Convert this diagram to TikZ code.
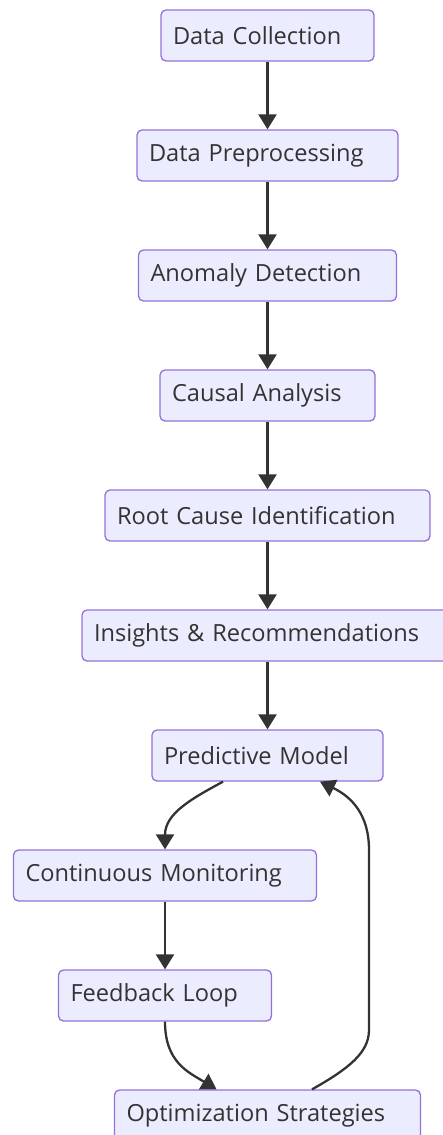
\documentclass[tikz,border=0pt]{standalone}
\usepackage{fontspec}
\setmainfont{Open Sans}
\usetikzlibrary{arrows.meta}
\definecolor{boxfill}{HTML}{ECECFF}
\definecolor{boxline}{HTML}{9370DB}
\definecolor{ink}{HTML}{333333}

\begin{document}
\begin{tikzpicture}[x=1pt, y=-1pt,
    box/.style={draw=boxline, fill=boxfill, line width=1.3pt, rounded corners=5pt,
        minimum height=51pt, inner xsep=12pt, inner ysep=0pt, align=left,
        text=ink, font=\fontsize{23.6}{28}\selectfont},
    flow/.style={draw=ink, line width=2.3pt, -{Triangle[width=18pt,length=15pt]}}]
\useasboundingbox (0,0) rectangle (442,1135);
    \node[box, text width=189pt] (dc) at (267.5,35.5) {Data Collection};
    \node[box, text width=237pt] (dp) at (267.5,155.5) {Data Preprocessing};
    \node[box, text width=234pt] (ad) at (267.5,275.5) {Anomaly Detection};
    \node[box, text width=191pt] (ca) at (267.5,395.5) {Causal Analysis};
    \node[box, text width=301pt] (rc) at (267.5,515.5) {Root Cause Identification};
    \node[box, text width=347pt] (ir) at (267.5,635.5) {Insights \& Recommendations};
    \node[box, text width=207pt] (pm) at (267.5,755.5) {Predictive Model};
    \node[box, text width=279pt] (cm) at (165,875.5) {Continuous Monitoring};
    \node[box, text width=189pt] (fl) at (165,995.5) {Feedback Loop};
    \node[box, text width=282pt] (os) at (267.5,1115.5) {Optimization Strategies};
    \draw[flow] (dc) -- (dp);
    \draw[flow] (dp) -- (ad);
    \draw[flow] (ad) -- (ca);
    \draw[flow] (ca) -- (rc);
    \draw[flow] (rc) -- (ir);
    \draw[flow] (ir) -- (pm);
    \draw[flow] ([xshift=-44.5pt]pm.south) .. controls (193,798) and (165,813) .. (cm.north);
    \draw[flow] (cm) -- (fl);
    \draw[flow] (fl.south) .. controls (165,1062) and (188,1072) .. ([xshift=-51pt]os.north);
    \draw[flow] ([xshift=44.5pt]os.north) .. controls (350,1068) and (369,1052) .. (369,1030)
        -- (369,850) .. controls (369,815) and (352,797) .. ([xshift=52.5pt]pm.south);
    %\draw[dotted] (0,0) rectangle (442,1135);
\end{tikzpicture}
\end{document}
